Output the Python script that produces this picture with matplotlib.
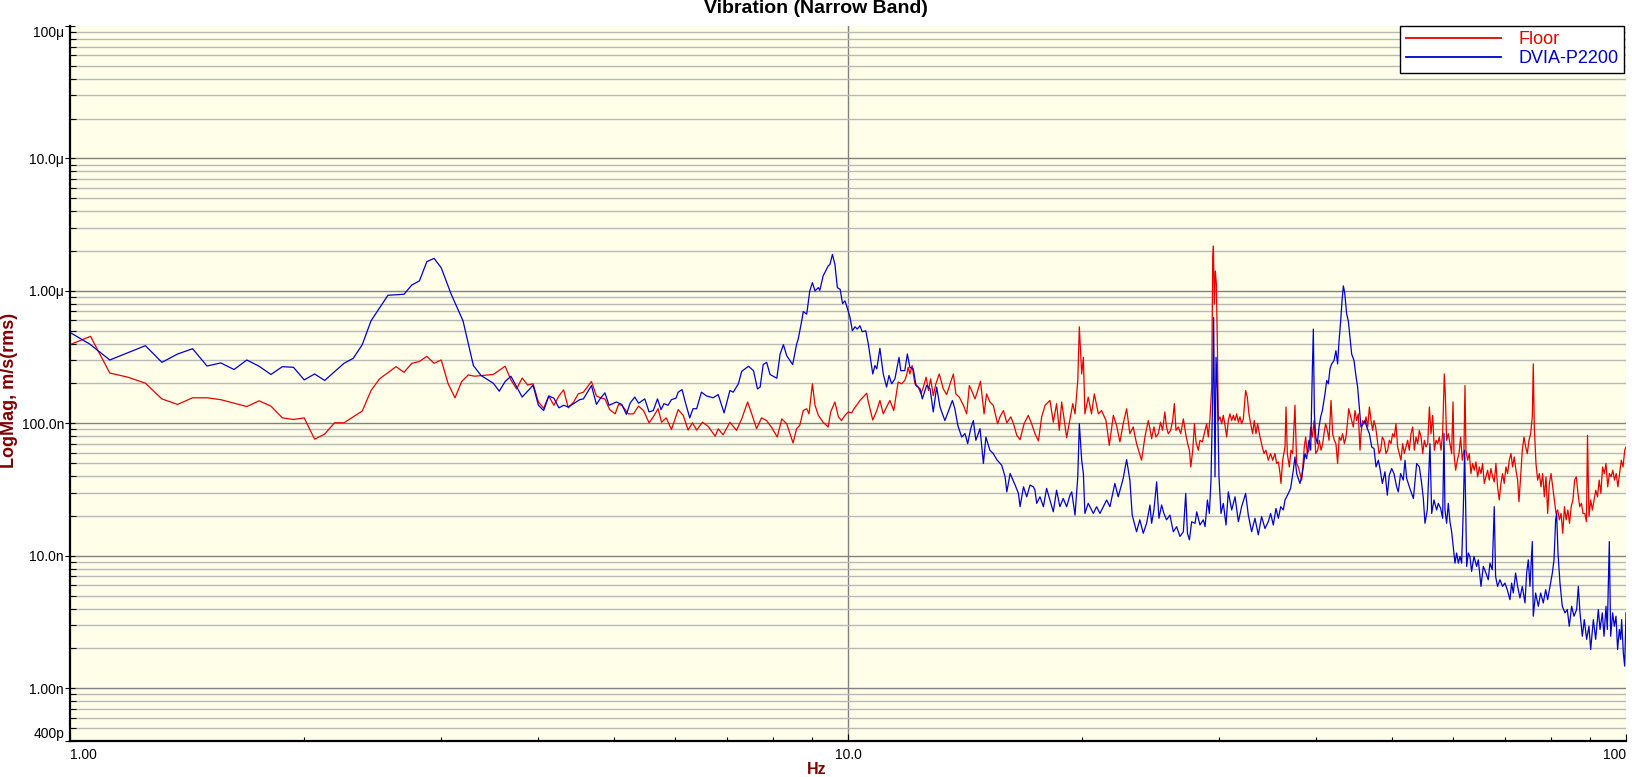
import matplotlib.pyplot as plt
from matplotlib.ticker import LogLocator, NullFormatter

plt.rcParams['font.family'] = ['Liberation Sans', 'DejaVu Sans']

# Spectra: (frequency in Hz, magnitude in nm/s rms)
floor = [
    (1.0, 393), (1.0625, 454), (1.125, 240), (1.1875, 223), (1.25, 201), (1.3125, 153), (1.375, 139),
    (1.4375, 156), (1.5, 156), (1.5625, 151), (1.6875, 134), (1.75, 148), (1.8125, 135), (1.875, 110),
    (1.9375, 107), (2.0, 110), (2.0625, 76), (2.125, 83), (2.1875, 101), (2.25, 101), (2.3125, 112),
    (2.375, 124), (2.4375, 177), (2.5, 217), (2.625, 268), (2.6875, 243), (2.75, 284), (2.8125, 293),
    (2.875, 321), (2.9375, 284), (3.0, 301), (3.0625, 199), (3.125, 156), (3.1875, 207), (3.25, 232),
    (3.3125, 227), (3.5, 234), (3.625, 270), (3.6875, 213), (3.75, 182), (3.8125, 220), (3.875, 195),
    (3.9375, 199), (4.0, 145), (4.0625, 130), (4.125, 161), (4.1875, 137), (4.25, 161), (4.31, 179),
    (4.37, 131), (4.44, 145), (4.50, 167), (4.57, 172), (4.68, 207), (4.75, 161), (4.82, 155), (4.87, 153),
    (4.94, 127), (5.02, 118), (5.07, 139), (5.12, 137), (5.22, 118), (5.30, 118), (5.38, 135), (5.46, 125),
    (5.55, 101), (5.62, 112), (5.70, 129), (5.76, 102), (5.84, 110), (5.93, 90), (6.05, 127), (6.14, 115),
    (6.23, 89), (6.31, 101), (6.39, 89), (6.50, 102), (6.61, 95), (6.75, 80), (6.81, 91), (6.91, 82),
    (7.05, 102), (7.19, 88.6), (7.30, 108), (7.43, 145), (7.52, 118), (7.63, 91.2), (7.74, 110), (7.86, 105),
    (7.98, 92.8), (8.11, 78.9), (8.22, 108), (8.34, 99.4), (8.50, 71.1), (8.59, 91.2), (8.67, 96.6),
    (8.76, 125), (8.85, 129), (8.91, 118), (9.00, 199), (9.07, 137), (9.16, 115), (9.29, 102), (9.43, 93.9),
    (9.50, 122), (9.62, 145), (9.72, 112), (9.81, 105), (9.91, 115), (10.01, 122), (10.11, 120),
    (10.18, 129), (10.26, 137), (10.36, 149), (10.46, 158), (10.57, 169), (10.62, 145), (10.76, 106),
    (10.89, 125), (10.99, 149), (11.10, 118), (11.21, 133), (11.32, 149), (11.45, 125), (11.60, 205),
    (11.72, 199), (11.83, 211), (11.89, 230), (11.95, 265), (12.01, 236), (12.09, 273), (12.19, 199),
    (12.31, 188), (12.41, 167), (12.50, 188), (12.60, 223), (12.69, 177), (12.77, 217), (12.87, 162),
    (12.97, 199), (13.10, 236), (13.26, 182), (13.39, 165), (13.55, 205), (13.66, 236), (13.76, 167),
    (13.90, 158), (14.07, 137), (14.21, 118), (14.32, 193), (14.42, 177), (14.56, 153), (14.66, 172),
    (14.80, 208), (14.96, 118), (15.07, 167), (15.22, 145), (15.37, 137), (15.57, 99.4), (15.68, 112),
    (15.84, 125), (16.00, 101), (16.19, 112), (16.32, 99.4), (16.48, 81.2), (16.64, 75.4), (16.84, 99.4),
    (17.05, 115), (17.22, 99.4), (17.39, 83.6), (17.57, 73.7), (17.74, 112), (17.92, 137), (18.18, 149),
    (18.36, 102), (18.54, 141), (18.69, 88.6), (18.82, 145), (18.94, 112), (19.10, 78.0), (19.29, 108),
    (19.45, 141), (19.58, 118), (19.74, 211), (19.83, 536), (19.97, 236), (20.07, 315), (20.16, 118),
    (20.36, 158), (20.56, 118), (20.73, 167), (20.98, 118), (21.18, 125), (21.46, 105), (21.67, 68.3),
    (21.93, 115), (22.14, 96.6), (22.36, 72.4), (22.58, 99.4), (22.81, 129), (23.03, 83.6), (23.26, 93.9),
    (23.49, 70.3), (23.84, 52.7), (24.08, 78.9), (24.32, 105),
    (24.44, 91.2), (24.56, 76.6), (24.73, 93.9), (24.88, 78.9), (25.05, 83.6), (25.22, 102), (25.37, 88.6),
    (25.54, 122), (25.67, 93.9), (25.80, 83.6), (25.98, 88.6), (26.14, 105), (26.27, 141), (26.40, 88.6),
    (26.58, 93.9), (26.77, 83.6), (26.98, 108), (27.19, 81.2), (27.33, 70.3), (27.47, 62.7), (27.58, 46.9),
    (27.74, 62.7), (27.88, 99.4), (28.01, 72.4), (28.20, 62.7), (28.34, 74.5), (28.54, 72.4), (28.70, 83.6),
    (28.91, 99.4), (29.05, 78.9), (29.20, 112), (29.34, 188), (29.43, 1781), (29.49, 2179), (29.57, 794),
    (29.66, 1414), (29.75, 1122), (29.84, 375), (29.92, 105), (30.07, 112), (30.22, 99.4), (30.37, 115),
    (30.52, 96.6), (30.67, 78.9), (30.82, 105), (30.97, 118), (31.13, 105), (31.28, 115), (31.44, 105),
    (31.59, 118), (31.75, 102), (31.90, 112), (32.06, 99.4), (32.22, 108), (32.44, 177), (32.60, 158),
    (32.76, 118), (32.93, 99.4), (33.12, 83.6), (33.28, 105), (33.45, 83.6), (33.61, 99.4), (33.85, 78.9),
    (34.08, 66.4), (34.26, 59.2), (34.45, 62.7), (34.69, 52.7), (34.93, 59.2), (35.14, 52.7), (35.38, 59.2),
    (35.56, 49.8), (35.74, 51.2), (35.92, 41.8), (36.02, 35.2), (36.20, 52.7), (36.45, 66.4), (36.56, 133),
    (36.70, 59.2), (36.92, 46.9), (37.10, 62.7), (37.29, 59.2), (37.54, 137), (37.73, 49.8), (37.91, 46.9),
    (38.10, 41.8), (38.29, 37.3), (38.48, 52.7), (38.59, 66.4), (38.75, 78.9), (38.94, 59.2), (39.13, 62.7),
    (39.33, 93.9), (39.52, 78.9), (39.72, 105), (39.92, 59.2), (40.15, 62.7), (40.35, 74.5), (40.55, 62.7),
    (40.75, 70.3), (40.91, 83.6), (41.11, 99.4), (41.32, 88.6), (41.52, 74.5), (41.77, 149), (41.97, 83.6),
    (42.18, 74.5), (42.38, 70.3), (42.59, 49.8), (42.80, 78.9), (43.02, 74.5), (43.23, 83.6), (43.45, 70.3),
    (43.66, 78.9), (43.88, 105), (44.01, 129), (44.18, 118), (44.40, 105), (44.62, 93.9), (44.84, 125),
    (45.06, 105), (45.28, 118), (45.51, 62.7), (45.64, 83.6), (45.87, 105), (46.10, 99.4), (46.33, 112),
    (46.56, 93.9), (46.79, 133), (47.02, 105), (47.25, 88.6), (47.44, 105), (47.67, 93.9), (47.90, 74.5),
    (48.14, 59.2), (48.38, 62.7), (48.62, 78.9), (48.86, 74.5), (49.15, 59.2), (49.39, 62.7), (49.63, 74.5),
    (49.88, 70.3), (50.12, 83.6), (50.37, 78.9), (50.62, 99.4), (50.87, 66.4), (51.12, 59.2), (51.37, 52.7),
    (51.63, 70.3), (51.89, 59.2), (52.14, 66.4), (52.40, 74.5), (52.66, 62.7), (52.92, 83.6), (53.19, 93.9),
    (53.45, 62.7), (53.72, 78.9), (53.98, 70.3), (54.25, 88.6), (54.52, 78.9), (54.79, 59.2), (55.06, 74.5),
    (55.33, 66.4), (55.61, 70.3), (55.88, 133), (56.15, 83.6), (56.43, 115), (56.71, 62.7), (56.99, 74.5),
    (57.27, 70.3), (57.55, 78.9), (57.84, 62.7), (58.12, 83.6), (58.41, 236), (58.58, 167), (58.81, 74.5),
    (59.10, 83.6), (59.39, 70.3), (59.69, 59.2), (59.93, 145), (60.10, 59.2), (60.40, 44.3), (60.70, 52.7),
    (61.00, 59.2), (61.30, 78.9), (61.60, 52.7), (61.90, 62.7), (62.09, 193), (62.27, 62.7), (62.58, 52.7),
    (62.89, 59.2), (63.20, 41.8), (63.51, 49.8), (63.82, 44.3), (64.14, 51.2), (64.46, 39.5), (64.78, 46.9),
    (65.10, 41.8), (65.42, 49.8), (65.74, 35.2), (66.07, 39.5), (66.39, 44.3), (66.72, 37.3), (67.05, 45.6),
    (67.38, 39.5), (67.71, 36.2), (68.05, 49.8), (68.38, 33.2), (68.72, 26.4), (69.06, 35.2), (69.40, 41.8),
    (69.74, 35.2), (70.09, 46.9), (70.44, 41.8), (70.79, 52.7), (71.14, 59.2), (71.49, 46.9), (71.84, 55.8),
    (72.20, 44.3), (72.56, 37.3), (72.85, 25.6), (73.21, 39.5), (73.57, 62.7), (73.94, 78.9), (74.31, 66.4),
    (74.67, 59.2), (75.04, 74.5), (75.41, 83.6), (75.78, 112), (76.00, 281), (76.23, 93.9), (76.61, 49.8),
    (76.99, 37.3), (77.37, 41.8), (77.76, 33.2), (78.14, 41.8), (78.53, 27.9), (78.92, 39.5), (79.31, 20.9),
    (79.70, 35.2), (80.10, 41.8), (80.50, 33.2), (80.89, 26.4), (81.30, 20.9), (81.70, 22.2), (82.11, 18.7),
    (82.52, 20.9), (82.93, 14.8), (83.35, 23.5), (83.77, 18.7), (84.19, 22.2), (84.61, 17.6), (85.03, 23.5),
    (85.46, 26.4), (85.89, 37.3), (86.32, 39.5), (86.75, 29.6), (87.19, 23.5), (87.63, 24.9), (88.07, 20.9),
    (88.52, 20.9), (88.96, 18.1), (89.23, 81.2), (89.62, 19.8), (90.07, 26.4), (90.53, 22.2), (90.98, 26.4),
    (91.44, 31.3), (91.91, 27.9), (92.37, 37.3), (92.84, 29.6), (93.30, 46.9), (93.78, 41.8), (94.25, 49.8),
    (94.73, 33.2), (95.21, 41.8), (95.69, 39.5), (96.17, 44.3), (96.66, 37.3), (97.14, 41.8), (97.63, 33.2),
    (98.13, 41.8), (98.62, 52.7), (99.12, 46.9), (99.62, 62.7), (100.0, 66.4),
]

dvia = [
    (1.0, 486), (1.06, 397), (1.125, 301), (1.25, 386), (1.3125, 289), (1.375, 334), (1.4375, 366),
    (1.5, 271), (1.5625, 286), (1.625, 255), (1.6875, 301), (1.75, 270), (1.8125, 234), (1.875, 268),
    (1.9375, 265), (2.0, 213), (2.0625, 236), (2.125, 211), (2.25, 284), (2.3125, 310), (2.375, 393),
    (2.4375, 595), (2.5625, 927), (2.6875, 944), (2.75, 1109), (2.8125, 1189), (2.875, 1662), (2.9375, 1761),
    (3.0, 1496), (3.09, 944), (3.2, 595), (3.3, 273), (3.375, 230), (3.5, 201), (3.5625, 175), (3.625, 207),
    (3.6875, 227), (3.8125, 158), (3.9375, 194), (4.0, 137), (4.0625, 125), (4.125, 161), (4.1875, 155),
    (4.25, 131), (4.31, 137), (4.37, 133), (4.44, 141), (4.52, 151), (4.57, 153), (4.68, 193), (4.75, 139),
    (4.80, 153), (4.87, 170), (4.93, 137), (5.04, 145), (5.12, 139), (5.19, 117), (5.25, 143), (5.32, 158),
    (5.38, 142), (5.48, 153), (5.55, 122), (5.62, 125), (5.69, 153), (5.75, 127), (5.80, 141), (5.87, 137),
    (5.93, 151), (6.01, 155), (6.05, 172), (6.12, 180), (6.17, 149), (6.26, 110), (6.32, 129), (6.39, 129),
    (6.48, 172), (6.58, 161), (6.71, 156), (6.81, 165), (6.93, 120), (7.05, 177), (7.12, 172), (7.23, 199),
    (7.30, 247), (7.45, 270), (7.56, 250), (7.65, 182), (7.71, 188), (7.78, 278), (7.86, 289), (7.94, 234),
    (8.10, 219), (8.18, 334), (8.26, 393), (8.34, 325), (8.49, 278), (8.59, 397), (8.63, 433), (8.72, 595),
    (8.76, 699), (8.85, 668), (8.93, 1000), (9.0, 1155), (9.07, 1000), (9.16, 1059), (9.20, 1012),
    (9.29, 1297), (9.43, 1542), (9.48, 1587), (9.55, 1887), (9.62, 1587), (9.69, 1059), (9.77, 1029),
    (9.84, 803), (9.91, 841), (9.96, 771), (10.06, 630), (10.13, 500), (10.21, 536), (10.28, 515),
    (10.36, 546), (10.43, 492), (10.54, 500), (10.62, 397), (10.76, 236), (10.83, 273), (10.89, 258),
    (10.99, 369), (11.10, 236), (11.21, 188), (11.29, 230), (11.38, 199), (11.49, 217), (11.63, 315),
    (11.69, 250), (11.83, 250), (11.92, 334), (12.01, 265), (12.13, 258), (12.23, 193), (12.38, 182),
    (12.46, 153), (12.62, 193), (12.75, 182), (12.87, 122), (13.00, 188), (13.13, 133), (13.32, 105),
    (13.45, 122), (13.62, 149), (13.72, 129), (13.84, 96.6), (14.00, 78.9), (14.14, 83.6), (14.25, 70.3),
    (14.38, 91.2), (14.49, 105), (14.60, 74.5), (14.78, 91.2), (14.93, 49.8), (15.04, 78.9), (15.22, 62.7),
    (15.37, 59.2), (15.53, 53.3), (15.76, 48.3), (15.92, 39.5), (16.00, 30.4), (16.16, 41.8), (16.40, 34.2),
    (16.56, 29.6), (16.64, 23.5), (16.81, 33.2), (16.97, 27.9), (17.14, 34.2), (17.31, 33.2), (17.39, 31.3),
    (17.48, 24.9), (17.65, 27.9), (17.83, 23.5), (18.00, 32.3), (18.18, 26.4), (18.36, 21.5), (18.54, 31.3),
    (18.72, 23.5), (18.91, 27.1), (19.10, 23.5), (19.29, 28.7), (19.39, 30.4), (19.58, 20.3), (19.74, 39.5),
    (19.83, 99.4), (19.97, 52.7), (20.07, 41.8), (20.16, 20.9), (20.36, 24.9), (20.67, 20.9), (20.87, 23.5),
    (21.08, 20.9), (21.29, 23.5), (21.50, 26.4), (21.71, 23.5), (22.03, 35.2), (22.25, 27.9), (22.58, 38.4),
    (22.81, 53.3), (23.03, 37.3), (23.19, 20.3), (23.49, 15.2), (23.72, 18.7), (23.96, 14.8), (24.20, 17.6),
    (24.44, 24.2), (24.56, 17.6), (24.73, 22.2), (24.93, 36.2), (25.10, 19.2), (25.30, 24.2), (25.47, 20.9),
    (25.67, 18.7), (25.93, 20.3), (26.19, 15.2), (26.45, 16.6), (26.71, 14.0), (26.98, 15.2), (27.17, 29.6),
    (27.31, 14.8), (27.47, 13.2), (27.65, 18.1), (27.93, 17.6), (28.07, 21.5), (28.34, 17.1), (28.62, 18.7),
    (28.77, 16.6), (28.97, 26.4), (29.14, 20.9), (29.28, 37.3), (29.43, 167), (29.51, 630), (29.63, 39.5),
    (29.72, 315), (29.84, 177), (29.98, 39.5), (30.16, 20.9), (30.37, 24.9), (30.61, 17.1), (30.82, 30.4),
    (31.13, 22.2), (31.44, 27.9), (31.75, 18.1), (32.06, 23.5), (32.44, 29.6), (32.70, 20.3), (33.02, 15.2),
    (33.35, 19.2), (33.68, 14.4), (34.01, 19.8), (34.35, 16.1), (34.69, 18.1), (34.93, 20.9), (35.21, 17.1),
    (35.49, 22.8), (35.74, 19.2), (35.99, 23.5), (36.27, 22.2), (36.45, 26.4), (36.81, 29.6), (37.06, 32.3),
    (37.36, 44.3), (37.54, 55.8), (37.73, 41.8), (38.10, 35.2), (38.29, 39.5), (38.48, 46.9), (38.67, 59.2),
    (38.86, 54.2), (39.13, 74.5), (39.33, 62.7), (39.52, 250), (39.64, 515), (39.76, 118), (39.92, 78.9),
    (40.11, 70.3), (40.31, 93.9), (40.51, 112), (40.71, 125), (41.03, 167), (41.24, 211), (41.44, 199),
    (41.64, 258), (41.85, 281), (42.14, 298), (42.38, 354), (42.59, 281), (42.76, 409), (42.98, 595),
    (43.15, 841), (43.32, 1091), (43.49, 972), (43.75, 668), (43.96, 595), (44.18, 446), (44.40, 334),
    (44.71, 298), (44.93, 236), (45.19, 188), (45.42, 133), (45.64, 93.9), (45.96, 99.4), (46.19, 105),
    (46.42, 93.9), (46.79, 83.6), (47.11, 66.4), (47.44, 64.5), (47.72, 46.9), (48.05, 52.7), (48.28, 45.6),
    (48.62, 35.2), (49.00, 43.1), (49.34, 28.7), (49.63, 40.6), (49.98, 45.6), (50.32, 41.8), (50.72, 33.2),
    (50.97, 30.4), (51.32, 41.8), (51.73, 37.3), (51.99, 52.7), (52.25, 38.4), (52.66, 33.2), (53.03, 29.6),
    (53.30, 27.1), (53.82, 49.8), (54.25, 46.9), (54.62, 35.2), (54.89, 27.1), (55.16, 17.6), (55.54, 22.2),
    (55.98, 70.3), (56.26, 20.9), (56.65, 26.4), (57.10, 22.2), (57.38, 24.9), (57.78, 22.8), (58.12, 19.2),
    (58.35, 83.6), (58.52, 22.2), (58.81, 17.6), (59.10, 24.9), (59.39, 18.1), (59.69, 15.2), (59.87, 12.8),
    (60.28, 8.81), (60.58, 10.5), (60.88, 8.81), (61.18, 9.89), (61.48, 8.81), (61.78, 22.2), (62.03, 62.7),
    (62.21, 24.9), (62.40, 8.32), (62.70, 10.5), (63.01, 9.89), (63.32, 7.62), (63.76, 9.89), (64.27, 8.32),
    (64.59, 9.33), (65.10, 5.88), (65.55, 8.32), (66.07, 7.41), (66.52, 6.60), (66.85, 8.81), (67.31, 7.85),
    (67.71, 23.5), (67.98, 6.99), (68.38, 5.88), (68.86, 6.60), (69.40, 5.88), (69.88, 6.23), (70.37, 5.55),
    (70.93, 4.67), (71.28, 6.23), (71.63, 5.24), (72.13, 7.41), (72.56, 5.88), (73.06, 4.81), (73.57, 5.88),
    (74.16, 4.41), (74.52, 7.41), (74.89, 9.33), (75.26, 5.88), (75.78, 12.8), (76.00, 3.50), (76.53, 5.24),
    (77.14, 4.16), (77.68, 5.24), (78.29, 4.41), (78.84, 5.55), (79.30, 4.67), (79.85, 5.88), (80.41, 7.41),
    (80.81, 9.33), (81.20, 18.7), (81.44, 20.9), (81.77, 10.5), (82.25, 6.23), (82.82, 4.16), (83.48, 3.71),
    (84.05, 3.93), (84.55, 2.94), (85.14, 4.16), (85.73, 3.50), (86.41, 3.93), (86.84, 5.88), (87.27, 3.71),
    (87.87, 2.47), (88.39, 3.30), (89.00, 2.34), (89.62, 2.94), (90.07, 1.96), (90.79, 3.30), (91.41, 2.34),
    (92.14, 3.93), (92.60, 2.78), (93.23, 3.71), (93.70, 2.47), (94.25, 4.16), (94.62, 2.78), (95.18, 12.8),
    (95.56, 2.47), (96.13, 3.71), (96.60, 2.94), (97.08, 3.50), (97.55, 1.96), (98.04, 2.78), (98.43, 2.34),
    (98.72, 3.30), (99.21, 1.85), (99.61, 1.47), (100.0, 3.71),
]

x_ticks = [1, 10, 100]
x_tick_labels = ['1.00', '10.0', '100']
y_ticks = [1e-4, 1e-5, 1e-6, 1e-7, 1e-8, 1e-9, 4e-10]
y_tick_labels = ['100μ', '10.0μ', '1.00μ', '100.0n', '10.0n', '1.00n', '400p']

W, H = 1632, 777
fig = plt.figure(figsize=(W / 100, H / 100), dpi=100)
ax = fig.add_axes([70 / W, 1 - 741 / H, 1556 / W, 715 / H])
ax.set_facecolor('#fefee9')
ax.set_xscale('log')
ax.set_yscale('log')

f, v = zip(*floor)
ax.plot(f, [m * 1e-9 for m in v], color='#e60000', lw=0.9, label='Floor')
f, v = zip(*dvia)
ax.plot(f, [m * 1e-9 for m in v], color='#0000d0', lw=0.9, label='DVIA-P2200')

ax.set_xlim(1, 100)
ax.set_ylim(4e-10, 1e-4)

ax.set_xticks(x_ticks, x_tick_labels)
ax.xaxis.set_minor_locator(LogLocator(base=10, subs=range(2, 10), numticks=50))
ax.xaxis.set_minor_formatter(NullFormatter())
ax.set_yticks(y_ticks, y_tick_labels)
ax.yaxis.set_minor_locator(LogLocator(base=10, subs=range(2, 10), numticks=50))
ax.yaxis.set_minor_formatter(NullFormatter())

ax.set_axisbelow(True)
ax.grid(True, axis='y', which='major', color='#808080', lw=1.0)
ax.grid(True, axis='y', which='minor', color='#b8b8b8', lw=1.0)
ax.grid(True, axis='x', which='major', color='#808080', lw=1.0)
# only the 10 Hz line is drawn vertically, no lines on the frame edges
for t, loc in zip(ax.xaxis.get_major_ticks(), x_ticks):
    t.gridline.set_visible(loc == 10)
for t, loc in zip(ax.yaxis.get_major_ticks(), y_ticks):
    t.gridline.set_visible(loc not in (1e-4, 4e-10))

for s in ['top', 'right']:
    ax.spines[s].set_visible(False)
for s in ['left', 'bottom']:
    ax.spines[s].set_linewidth(1.6)

ax.tick_params(axis='both', which='both', colors='black', width=0.8, labelsize=10)
ax.tick_params(axis='y', which='major', direction='inout', length=6.5, pad=1)
ax.tick_params(axis='y', which='minor', direction='in', length=4)
ax.tick_params(axis='x', which='major', direction='in', length=5, pad=5)
ax.tick_params(axis='x', which='minor', direction='in', length=3)

xl = ax.get_xticklabels()
xl[0].set_ha('left')
xl[-1].set_ha('right')
yl = ax.get_yticklabels()
yl[0].set_va('top')
yl[-1].set_va('bottom')

leg = ax.legend(loc='upper right', bbox_to_anchor=(1624 / W, 1 - 26 / H), bbox_transform=fig.transFigure,
                fancybox=False, framealpha=1, facecolor='white', edgecolor='black', borderaxespad=0,
                handlelength=5.3, handletextpad=0.95, borderpad=0.3, labelspacing=0.1,
                fontsize=13, labelcolor='linecolor')
leg.get_frame().set_linewidth(1.0)
for line in leg.get_lines():
    line.set_linewidth(1.3)

fig.text(816 / W, 1 - 13 / H, 'Vibration (Narrow Band)', ha='center', va='baseline',
         fontsize=14, fontweight='bold')
fig.text(817 / W, 1 - 769 / H, 'Hz', ha='center', va='center', fontsize=11.5,
         fontweight='bold', color='#800000')
fig.text(10 / W, 1 - 390 / H, 'LogMag, m/s(rms)', rotation=90, ha='center', va='center',
         fontsize=13, fontweight='bold', color='#800000')

fig.savefig('out.png', dpi=100)
